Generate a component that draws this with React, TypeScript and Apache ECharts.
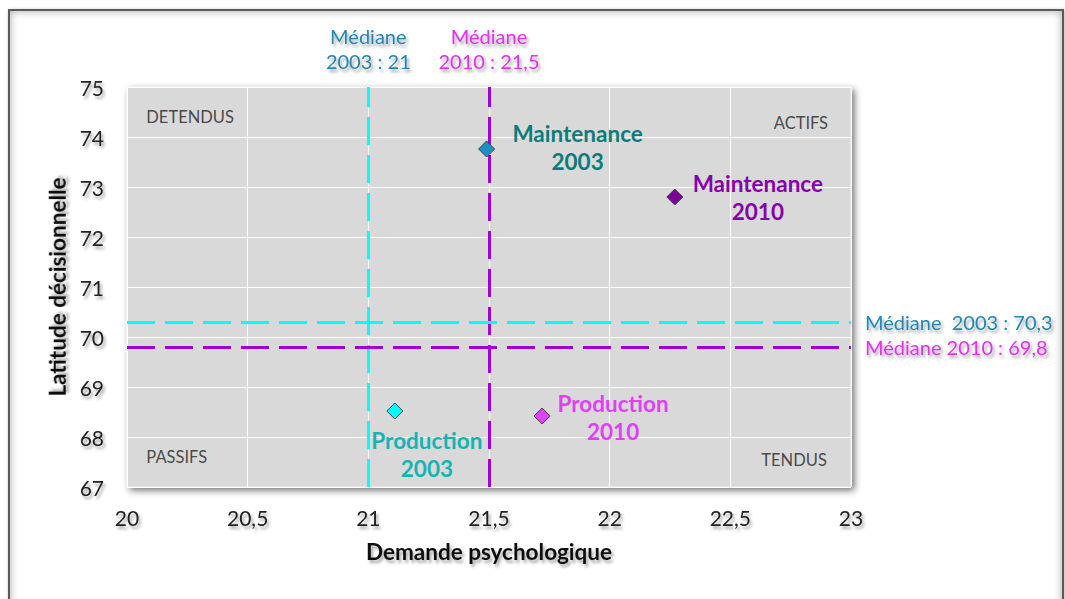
import React, { useEffect, useRef } from "react";
import * as echarts from "echarts";

// ---- data ----
const pointNames = ["Maintenance\n2003", "Maintenance\n2010", "Production\n2003", "Production\n2010"];
const demandeValues = [21.49, 22.27, 21.11, 21.72];
const latitudeValues = [73.76, 72.8, 68.52, 68.42];

const medianDemande2003 = 21;
const medianDemande2010 = 21.5;
const medianLatitude2003 = 70.3;
const medianLatitude2010 = 69.8;

const medianXLabels = ["Médiane\n2003 : 21", "Médiane\n2010 : 21,5"];
const medianYLabels = ["Médiane  2003 : 70,3", "Médiane 2010 : 69,8"];

const quadrantNames = ["DETENDUS", "ACTIFS", "PASSIFS", "TENDUS"];
const quadrantX = [20.08, 22.905, 20.08, 22.9];
const quadrantY = [74.4, 74.28, 67.6, 67.54];

const xAxisTitle = "Demande psychologique";
const yAxisTitle = "Latitude décisionnelle";

// ---- styles ----
const markerColors = ["#1a8fc8", "#7a0099", "#00ffff", "#dd44ff"];
const labelColors = ["#0b7c7d", "#8600ac", "#14b4b4", "#e040f5"];
const labelOffsets = [[91, -2], [83, 0], [32, 43], [71, 1]];
const quadrantAlign = ["left", "right", "left", "right"];

const FONT = "Lato, 'Open Sans', sans-serif";
const shadow = {
  textShadowColor: "rgba(0,0,0,0.35)",
  textShadowBlur: 3,
  textShadowOffsetX: 2,
  textShadowOffsetY: 3,
};

const color2003Line = "#00ffff";
const color2010Line = "#a000d8";
const color2003Text = "#2586b0";
const color2010Text = "#e030ea";

export default function App() {
  const ref = useRef<HTMLDivElement>(null);

  useEffect(() => {
    if (!ref.current) return;
    const chart = echarts.init(ref.current, undefined, { renderer: "svg" });

    const medianLine = (axis: "xAxis" | "yAxis", value: number, lineColor: string, textColor: string, text: string) => ({
      [axis]: value,
      lineStyle: { color: lineColor, width: 3, type: [28, 10], opacity: 1 },
      label: {
        show: true,
        position: "end",
        formatter: text,
        color: textColor,
        fontFamily: FONT,
        fontSize: 20,
        lineHeight: 25,
        distance: axis === "xAxis" ? 14 : 14,
        ...shadow,
      },
    });

    chart.setOption({
      animation: false,
      backgroundColor: "transparent",
      grid: {
        left: 127,
        top: 87,
        right: 214,
        bottom: 112,
        show: true,
        backgroundColor: "#d9d9d9",
        borderColor: "#f0f0f0",
        borderWidth: 1,
        shadowColor: "rgba(0,0,0,0.55)",
        shadowBlur: 7,
        shadowOffsetX: 3,
        shadowOffsetY: 3,
      },
      xAxis: {
        type: "value",
        min: 20,
        max: 23,
        interval: 0.5,
        name: xAxisTitle,
        nameLocation: "middle",
        nameGap: 53,
        nameTextStyle: { fontFamily: FONT, fontWeight: "bold", fontSize: 22.5, color: "#111", ...shadow },
        axisLine: { show: false },
        axisTick: { show: false },
        axisLabel: {
          margin: 20,
          fontFamily: FONT,
          fontSize: 21,
          color: "#222",
          formatter: (v: number) => String(v).replace(".", ","),
          ...shadow,
        },
        splitLine: { show: true, lineStyle: { color: "#ffffff", width: 1 } },
      },
      yAxis: {
        type: "value",
        min: 67,
        max: 75,
        interval: 1,
        name: yAxisTitle,
        nameLocation: "middle",
        nameGap: 55,
        nameTextStyle: { fontFamily: FONT, fontWeight: "bold", fontSize: 22.5, color: "#111", ...shadow },
        axisLine: { show: false },
        axisTick: { show: false },
        axisLabel: { margin: 23, fontFamily: FONT, fontSize: 21, color: "#222", ...shadow },
        splitLine: { show: true, lineStyle: { color: "#ffffff", width: 1 } },
      },
      series: [
        {
          type: "scatter",
          silent: true,
          symbolSize: 0,
          z: 1,
          data: quadrantNames.map((n, i) => ({
            name: n,
            value: [quadrantX[i], quadrantY[i]],
            label: {
              show: true,
              position: "inside",
              formatter: n,
              align: quadrantAlign[i],
              verticalAlign: "middle",
              fontFamily: FONT,
              fontSize: 16.5,
              color: "#222",
            },
          })),
        },
        {
          type: "scatter",
          symbol: "diamond",
          symbolSize: 16,
          z: 3,
          itemStyle: { opacity: 1 },
          data: pointNames.map((n, i) => ({
            name: n,
            value: [demandeValues[i], latitudeValues[i]],
            itemStyle: { color: markerColors[i], borderColor: "#404040", borderWidth: 1, opacity: 1 },
            label: {
              show: true,
              position: "inside",
              offset: labelOffsets[i],
              formatter: n,
              align: "center",
              verticalAlign: "middle",
              fontFamily: FONT,
              fontWeight: "bold",
              fontSize: 22.5,
              lineHeight: 28,
              color: labelColors[i],
            },
          })),
          markLine: {
            silent: true,
            symbol: "none",
            z: 2,
            data: [
              medianLine("xAxis", medianDemande2003, color2003Line, color2003Text, medianXLabels[0]),
              medianLine("xAxis", medianDemande2010, color2010Line, color2010Text, medianXLabels[1]),
              medianLine("yAxis", medianLatitude2003, color2003Line, color2003Text, medianYLabels[0]),
              medianLine("yAxis", medianLatitude2010, color2010Line, color2010Text, medianYLabels[1]),
            ],
          },
        },
      ],
    });

    return () => chart.dispose();
  }, []);

  return (
    <div style={{ position: "fixed", left: 0, top: 0, width: 1065, height: 599, overflow: "hidden", background: "#fff" }}>
      <div
        style={{
          position: "absolute",
          left: 8,
          top: 9,
          width: 1052,
          height: 640,
          border: "2px solid #5a5a5a",
          boxShadow: "inset 0 0 8px rgba(0,0,0,0.35), 1px 1px 4px rgba(0,0,0,0.3)",
          background: "#fff",
        }}
      />
      <div ref={ref} style={{ position: "absolute", left: 0, top: 0, width: 1065, height: 599 }} />
    </div>
  );
}
